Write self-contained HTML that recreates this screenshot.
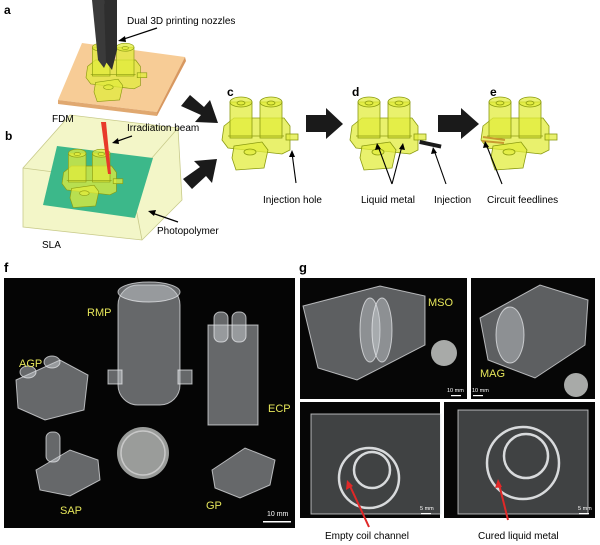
<!DOCTYPE html>
<html><head><meta charset="utf-8"><style>
html,body{margin:0;padding:0;background:#fff;}
svg{display:block;font-family:"Liberation Sans",sans-serif;}
</style></head><body>
<svg width="600" height="545" viewBox="0 0 600 545" xmlns="http://www.w3.org/2000/svg">
<defs>
<g id="part" stroke="#8a9a10" stroke-width="0.8" fill="#e2ec3c" fill-opacity="0.75">
  <polygon points="2,28 12,20 62,20 68,28 68,52 60,56 6,50 0,42"/>
  <rect x="8" y="4" width="22" height="36"/>
  <ellipse cx="19" cy="4" rx="11" ry="5"/>
  <ellipse cx="19" cy="5" rx="4" ry="2"/>
  <rect x="38" y="4" width="22" height="36"/>
  <ellipse cx="49" cy="4" rx="11" ry="5"/>
  <ellipse cx="49" cy="5" rx="4" ry="2"/>
  <polygon points="12,48 40,44 46,52 42,70 14,72 10,60"/>
  <ellipse cx="28" cy="54" rx="6" ry="3"/>
  <rect x="64" y="36" width="12" height="6"/>
  <line x1="6" y1="38" x2="62" y2="38"/>
</g>
</defs>

<!-- panel b box first -->
<polygon points="23,168 70,115 178,128 182,200 142,240 23,227" fill="#f3f6c8" stroke="#c8ca8a" stroke-width="0.8"/>
<polyline points="23,168 131,182 178,128" fill="none" stroke="#c8ca8a" stroke-width="0.8"/>
<line x1="131" y1="182" x2="142" y2="240" stroke="#c8ca8a" stroke-width="0.8"/>
<polygon points="57,146 153,158 135,218 43,205" fill="#3cb88a"/>
<g transform="translate(62,150) scale(0.8)"><use href="#part"/></g>
<polygon points="101,122 106,122 111,174 108,174" fill="#e83a2a"/>

<!-- panel a -->
<text x="4" y="14" font-size="12" font-weight="bold">a</text>
<polygon points="82,43 185,57 157,112 58,100" fill="#f7cc96"/>
<polygon points="58,100 157,112 157,116 58,104" fill="#e0a870"/>
<polygon points="157,112 185,57 186,61 157,116" fill="#d89860"/>
<g transform="translate(86,44) scale(0.8)"><use href="#part"/></g>
<path d="M92,0 L104,0 L110,55 L104,68 L98,60 Z" fill="#3a3a3a"/>
<path d="M104,0 L117,0 L117,50 L112,70 L106,62 Z" fill="#2e2e2e"/>
<text x="127" y="24" font-size="10">Dual 3D printing nozzles</text>
<line x1="157" y1="28" x2="121" y2="40" stroke="#000" stroke-width="1.2"/>
<polygon points="118,41 125,36 126,42" fill="#000"/>
<text x="52" y="122" font-size="10">FDM</text>

<text x="5" y="140" font-size="12" font-weight="bold">b</text>
<text x="127" y="131" font-size="10">Irradiation beam</text>
<line x1="132" y1="136" x2="115" y2="142" stroke="#000" stroke-width="1.2"/>
<polygon points="112,143 118,138 119,144" fill="#000"/>
<text x="157" y="234" font-size="10">Photopolymer</text>
<line x1="178" y1="222" x2="152" y2="213" stroke="#000" stroke-width="1.2"/>
<polygon points="148,211 156,210 154,216" fill="#000"/>
<text x="42" y="248" font-size="10">SLA</text>

<!-- big arrows -->
<polygon points="181,106 190,95 204,107 210,100 218,123 195,122 201,115" fill="#1a1a1a"/>
<polygon points="183,179 192,189 206,176 212,183 217,159 194,161 200,167" fill="#1a1a1a"/>
<polygon points="306,115 326,115 326,108 343,124 326,139 326,132 306,132" fill="#1a1a1a"/>
<polygon points="438,115 461,115 461,108 479,124 461,139 461,132 438,132" fill="#1a1a1a"/>

<!-- c d e -->
<text x="227" y="96" font-size="12" font-weight="bold">c</text>
<text x="352" y="96" font-size="12" font-weight="bold">d</text>
<text x="490" y="96" font-size="12" font-weight="bold">e</text>
<g transform="translate(222,98)"><use href="#part"/></g>
<g transform="translate(350,98)"><use href="#part"/></g>
<g transform="translate(481,98)"><use href="#part"/></g>
<rect x="420" y="140" width="22" height="4" fill="#1a1a1a" transform="rotate(12 420 140)"/>
<line x1="483" y1="137" x2="505" y2="140" stroke="#c89a30" stroke-width="2"/>
<line x1="482" y1="141" x2="504" y2="143" stroke="#c89a30" stroke-width="2"/>
<g stroke="#000" stroke-width="1.1" fill="none">
<line x1="296" y1="183" x2="292" y2="153"/>
<line x1="392" y1="184" x2="378" y2="146"/>
<line x1="392" y1="184" x2="402" y2="146"/>
<line x1="446" y1="184" x2="434" y2="150"/>
<line x1="502" y1="184" x2="486" y2="144"/>
</g>
<g fill="#000">
<polygon points="292,150 289,157 295,157"/>
<polygon points="377,143 375,150 381,149"/>
<polygon points="403,143 399,149 405,150"/>
<polygon points="433,147 431,154 437,153"/>
<polygon points="485,141 483,148 489,147"/>
</g>
<text x="263" y="203" font-size="10">Injection hole</text>
<text x="361" y="203" font-size="10">Liquid metal</text>
<text x="434" y="203" font-size="10">Injection</text>
<text x="487" y="203" font-size="10">Circuit feedlines</text>

<!-- panel f -->
<text x="4" y="272" font-size="13" font-weight="bold">f</text>
<rect x="4" y="278" width="291" height="250" fill="#050505"/>
<g fill="#c8ccd0" fill-opacity="0.5" stroke="#eef0f2" stroke-opacity="0.7" stroke-width="1">
<rect x="118" y="285" width="62" height="120" rx="20"/>
<ellipse cx="149" cy="292" rx="31" ry="10"/>
<rect x="108" y="370" width="14" height="14"/><rect x="178" y="370" width="14" height="14"/>
<rect x="208" y="325" width="50" height="100"/>
<rect x="214" y="312" width="14" height="30" rx="6"/><rect x="232" y="312" width="14" height="30" rx="6"/>
<polygon points="16,380 60,360 88,375 84,410 45,420 18,408"/>
<ellipse cx="28" cy="372" rx="8" ry="6"/><ellipse cx="52" cy="362" rx="8" ry="6"/>
<polygon points="36,470 70,450 98,460 100,480 70,496 40,490"/>
<rect x="46" y="432" width="14" height="30" rx="6"/>
<polygon points="212,470 245,448 275,460 270,485 240,498 215,488"/>
</g>
<circle cx="143" cy="453" r="26" fill="#9a9c9a"/>
<circle cx="143" cy="453" r="22" fill="none" stroke="#c8c8c8" stroke-width="1.5"/>
<g fill="#e6e65a" font-size="11">
<text x="87" y="316">RMP</text>
<text x="19" y="367">AGP</text>
<text x="268" y="412">ECP</text>
<text x="60" y="514">SAP</text>
<text x="206" y="509">GP</text>
</g>
<text x="267" y="516" font-size="7" fill="#fff">10 mm</text>
<rect x="263" y="521" width="28" height="1.5" fill="#fff"/>

<!-- panel g -->
<text x="299" y="272" font-size="13" font-weight="bold">g</text>
<rect x="300" y="278" width="167" height="121" fill="#060606"/>
<rect x="471" y="278" width="124" height="121" fill="#060606"/>
<rect x="300" y="402" width="140" height="116" fill="#060606"/>
<rect x="444" y="402" width="151" height="116" fill="#060606"/>
<g fill="#c8ccd0" fill-opacity="0.45" stroke="#eef0f2" stroke-opacity="0.7" stroke-width="1">
<polygon points="303,306 380,286 425,296 425,345 357,380 318,368"/>
<ellipse cx="370" cy="330" rx="10" ry="32"/><ellipse cx="382" cy="330" rx="10" ry="32"/>
<polygon points="480,318 540,285 588,300 585,345 535,378 488,360"/>
<ellipse cx="510" cy="335" rx="14" ry="28"/>
<rect x="311" y="414" width="130" height="100" fill-opacity="0.3"/>
<rect x="458" y="410" width="130" height="104" fill-opacity="0.3"/>
</g>
<g fill="none" stroke="#d8dadc" stroke-width="2.5">
<circle cx="369" cy="478" r="30"/><circle cx="372" cy="470" r="18"/>
<circle cx="523" cy="463" r="36"/><circle cx="526" cy="456" r="22"/>
</g>
<circle cx="444" cy="353" r="13" fill="#a8aaa8"/>
<circle cx="576" cy="385" r="12" fill="#a8aaa8"/>
<text x="428" y="306" font-size="11" fill="#e6e65a">MSO</text>
<text x="480" y="377" font-size="11" fill="#e6e65a">MAG</text>
<g font-size="5.5" fill="#fff">
<text x="447" y="392">10 mm</text><text x="472" y="392">10 mm</text>
<text x="420" y="510">5 mm</text><text x="578" y="510">5 mm</text>
</g>
<g fill="#fff"><rect x="451" y="395" width="10" height="1.2"/><rect x="473" y="395" width="10" height="1.2"/>
<rect x="421" y="513" width="10" height="1.2"/><rect x="579" y="513" width="10" height="1.2"/></g>
<g stroke="#e02828" stroke-width="2"><line x1="369" y1="527" x2="350" y2="486"/><line x1="508" y1="520" x2="499" y2="484"/></g>
<polygon points="347,480 346,490 353,486" fill="#e02828"/>
<polygon points="498,479 495,488 502,487" fill="#e02828"/>
<text x="325" y="539" font-size="10">Empty coil channel</text>
<text x="478" y="539" font-size="10">Cured liquid metal</text>
</svg>
</body></html>
